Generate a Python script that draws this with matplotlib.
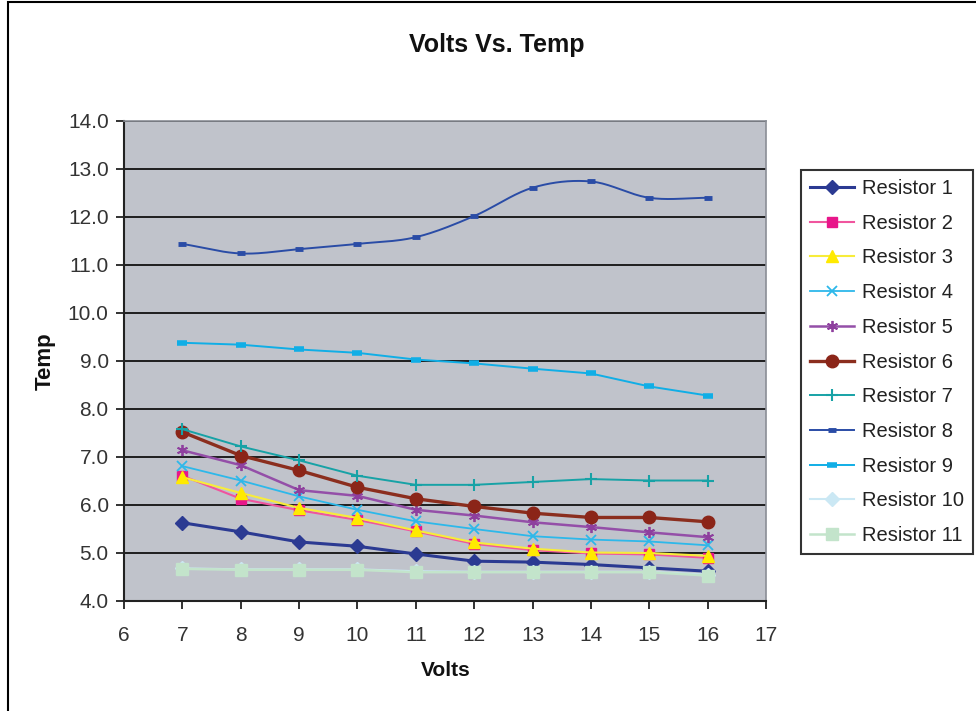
import numpy as np
import matplotlib
matplotlib.use("Agg")
import matplotlib.pyplot as plt
from matplotlib.patches import Rectangle

plt.rcParams['font.family'] = ['Liberation Sans', 'DejaVu Sans']

volts = [7, 8, 9, 10, 11, 12, 13, 14, 15, 16]
names = ["Resistor 1", "Resistor 2", "Resistor 3", "Resistor 4", "Resistor 5",
         "Resistor 6", "Resistor 7", "Resistor 8", "Resistor 9", "Resistor 10",
         "Resistor 11"]
r1 = [5.63, 5.44, 5.23, 5.14, 4.98, 4.83, 4.81, 4.76, 4.69, 4.62]
r2 = [6.61, 6.13, 5.89, 5.69, 5.45, 5.19, 5.06, 4.99, 4.97, 4.90]
r3 = [6.58, 6.25, 5.94, 5.73, 5.47, 5.22, 5.09, 5.01, 5.00, 4.94]
r4 = [6.81, 6.51, 6.18, 5.90, 5.66, 5.50, 5.35, 5.28, 5.24, 5.16]
r5 = [7.14, 6.83, 6.31, 6.19, 5.90, 5.78, 5.64, 5.54, 5.43, 5.33]
r6 = [7.52, 7.03, 6.72, 6.37, 6.13, 5.97, 5.83, 5.74, 5.74, 5.65]
r7 = [7.58, 7.22, 6.93, 6.61, 6.42, 6.42, 6.48, 6.54, 6.51, 6.51]
r8 = [11.44, 11.24, 11.33, 11.44, 11.58, 12.02, 12.61, 12.74, 12.40, 12.40]
r9 = [9.38, 9.34, 9.24, 9.17, 9.03, 8.95, 8.84, 8.74, 8.47, 8.28]
r10 = [4.68, 4.66, 4.66, 4.66, 4.62, 4.61, 4.61, 4.61, 4.61, 4.55]
r11 = [4.67, 4.65, 4.65, 4.65, 4.60, 4.60, 4.60, 4.60, 4.60, 4.53]
series = [r1, r2, r3, r4, r5, r6, r7, r8, r9, r10, r11]

colors = ["#2B3A92", "#F0559E", "#F7EC3A", "#2DB8EA", "#944FA8", "#8B2E1E",
          "#17A2A6", "#2A4CA6", "#10AEE6", "#CBE8F4", "#C3E4CB"]
mcolors = ["#2B3A92", "#E8168A", "#FFEA00", "#2DB8EA", "#8E3F9E", "#8B2518",
           "#17A2A6", "#2A4CA6", "#10AEE6", "#CBE8F4", "#C3E4CB"]
markers = ["D", "s", "^", "x", (6, 2, 0), "o", "+", "_", "_", "D", "s"]
msizes = [7, 7, 9, 7, 8, 9, 9, 6, 7, 7, 9]
lws = [2.2, 1.5, 1.5, 1.3, 1.8, 2.4, 1.4, 1.4, 1.4, 1.5, 1.8]
mews = [1, 1, 1, 1.3, 1.3, 1, 1.5, 3.5, 4, 1, 1]

xticks = list(range(6, 18))
yticks = [4.0, 5.0, 6.0, 7.0, 8.0, 9.0, 10.0, 11.0, 12.0, 13.0, 14.0]


def smooth(x, y, n=20):
    x = np.asarray(x, float)
    y = np.asarray(y, float)
    px = np.concatenate([[2 * x[0] - x[1]], x, [2 * x[-1] - x[-2]]])
    py = np.concatenate([[2 * y[0] - y[1]], y, [2 * y[-1] - y[-2]]])
    xs, ys = [], []
    for i in range(1, len(px) - 2):
        t = np.linspace(0, 1, n, endpoint=(i == len(px) - 3))
        p0x, p1x, p2x, p3x = px[i - 1], px[i], px[i + 1], px[i + 2]
        p0y, p1y, p2y, p3y = py[i - 1], py[i], py[i + 1], py[i + 2]
        c1x, c1y = p1x + (p2x - p0x) / 6, p1y + (p2y - p0y) / 6
        c2x, c2y = p2x - (p3x - p1x) / 6, p2y - (p3y - p1y) / 6
        bx = (1 - t) ** 3 * p1x + 3 * (1 - t) ** 2 * t * c1x + 3 * (1 - t) * t ** 2 * c2x + t ** 3 * p2x
        by = (1 - t) ** 3 * p1y + 3 * (1 - t) ** 2 * t * c1y + 3 * (1 - t) * t ** 2 * c2y + t ** 3 * p2y
        xs.append(bx)
        ys.append(by)
    return np.concatenate(xs), np.concatenate(ys)


fig = plt.figure(figsize=(9.76, 7.11), dpi=100)
fig.patch.set_facecolor("white")
fig.patches.append(Rectangle((8 / 976, -0.01), 1.0, (709 / 711) + 0.01,
                             transform=fig.transFigure, fill=False,
                             edgecolor="black", linewidth=1.5))

ax = fig.add_axes([124 / 976, 110 / 711, 642 / 976, 480 / 711])
ax.set_facecolor("#C0C3CB")

handles = []
for i, (name, ys) in enumerate(zip(names, series)):
    if i == 7:
        sx, sy = smooth(volts, ys)
        ax.plot(sx, sy, color=colors[i], lw=lws[i], zorder=3)
        ax.plot(volts, ys, linestyle="none", marker=markers[i], ms=msizes[i],
                mec=mcolors[i], mfc=mcolors[i], mew=mews[i], zorder=3)
        h, = ax.plot([], [], color=colors[i], lw=lws[i], marker=markers[i],
                     ms=msizes[i], mec=mcolors[i], mfc=mcolors[i], mew=mews[i],
                     label=name)
    else:
        h, = ax.plot(volts, ys, color=colors[i], lw=lws[i], marker=markers[i],
                     ms=msizes[i], mec=mcolors[i], mfc=mcolors[i], mew=mews[i],
                     label=name, zorder=3)
    handles.append(h)

ax.set_xlim(6, 17)
ax.set_ylim(4, 14)
ax.set_xticks(xticks)
ax.set_xticklabels([str(v) for v in xticks])
ax.set_yticks(yticks)
ax.set_yticklabels([f"{v:.1f}" for v in yticks])
ax.yaxis.grid(True, color="#111111", linewidth=1.3)
ax.set_axisbelow(True)
ax.tick_params(axis="both", direction="out", length=6, width=1.3,
               colors="#222222", labelsize=15, labelcolor="#333333")
ax.tick_params(axis="x", pad=12)
ax.tick_params(axis="y", pad=5)
for s in ["left", "bottom"]:
    ax.spines[s].set_color("#222222")
    ax.spines[s].set_linewidth(1.5)
for s in ["top", "right"]:
    ax.spines[s].set_color("#8A8E96")
    ax.spines[s].set_linewidth(1.2)

fig.text(497 / 976, 1 - 45 / 711, "Volts Vs. Temp", ha="center", va="center",
         fontsize=18, fontweight="bold", color="#111111")
fig.text(446 / 976, 1 - 671 / 711, "Volts", ha="center", va="center",
         fontsize=15, fontweight="bold", color="#111111")
fig.text(45 / 976, 1 - 361 / 711, "Temp", ha="center", va="center",
         rotation=90, fontsize=16, fontweight="bold", color="#111111")

leg = fig.legend(handles=handles, loc="upper left",
                 bbox_to_anchor=(801 / 976, 1 - 170 / 711),
                 fontsize=14.5, frameon=True, fancybox=False,
                 edgecolor="black", handlelength=2.2, handletextpad=0.4,
                 labelspacing=0.78, borderpad=0.45, borderaxespad=0)
leg.get_frame().set_linewidth(1.5)
for t in leg.get_texts():
    t.set_color("#222222")

fig.savefig("out.png", dpi=100)
